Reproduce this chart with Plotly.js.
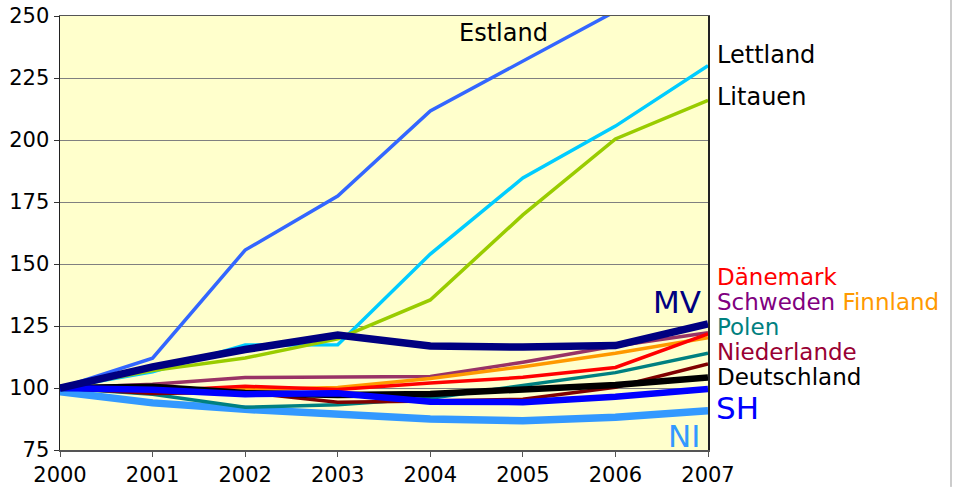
<!DOCTYPE html>
<html>
<head>
<meta charset="utf-8">
<script src="https://cdn.plot.ly/plotly-3.0.1.min.js"></script>
<style>html,body{margin:0;padding:0;background:#fff;}#chart{width:953px;height:487px;}</style>
</head>
<body>
<div id="chart"></div>
<script>
const years = [2000, 2001, 2002, 2003, 2004, 2005, 2006, 2007];

const estland     = [100, 112, 155.6, 177.4, 211.7, 232, 252.5, 272];
const lettland    = [100, 106.5, 117.3, 117.4, 154, 184.7, 205.6, 230];
const litauen     = [100, 107, 112.1, 119.8, 135.5, 169.8, 200.4, 216];
const mv          = [100, 108.5, 115.5, 121.4, 116.9, 116.5, 117.1, 125.8];
const schweden    = [100, 101.5, 104.2, 104.3, 104.6, 110.4, 116.9, 122.3];
const finnland    = [100, 99.5, 99.3, 100.2, 103.8, 108.6, 114, 120.3];
const daenemark   = [100, 98.8, 100.7, 99.4, 102, 104.3, 108.3, 121.8];
const polen       = [100, 97.5, 92.2, 93.2, 95.9, 100.9, 106.2, 114];
const niederlande = [100, 97.8, 98.3, 94.3, 94.8, 95.5, 100.3, 109.7];
const deutschland = [100, 100.5, 98, 97.2, 97.6, 99.2, 101.2, 104.2];
const sh          = [100, 99.3, 97.5, 97.9, 94.5, 94.3, 96.5, 99.6];
const ni          = [98.5, 94, 91.4, 89.5, 87.5, 86.8, 88.2, 90.8];

const series = [
  {name: 'NI', y: ni, color: '#3399FF', w: 7.5},
  {name: 'Estland', y: estland, color: '#3366FF', w: 3.5},
  {name: 'Lettland', y: lettland, color: '#00CCFF', w: 3.5},
  {name: 'Litauen', y: litauen, color: '#99CC00', w: 3.5},
  {name: 'Polen', y: polen, color: '#008080', w: 3.5},
  {name: 'Niederlande', y: niederlande, color: '#800000', w: 3.5},
  {name: 'Schweden', y: schweden, color: '#993366', w: 3.5},
  {name: 'Finnland', y: finnland, color: '#FF9900', w: 3.5},
  {name: 'Dänemark', y: daenemark, color: '#FF0000', w: 3.5},
  {name: 'Deutschland', y: deutschland, color: '#000000', w: 6.5},
  {name: 'SH', y: sh, color: '#0000FF', w: 6.5},
  {name: 'MV', y: mv, color: '#000080', w: 7.5}
];

const traces = series.map(s => ({
  x: years, y: s.y, type: 'scatter', mode: 'lines', name: s.name,
  line: {color: s.color, width: s.w}, hoverinfo: 'skip'
}));

const F = 'DejaVu Sans, sans-serif';
function ann(text, x, y, color, size, xanchor, xref) {
  return {text: text, x: x, y: y, xref: xref || 'x', yref: 'y', showarrow: false,
    xanchor: xanchor || 'left', yanchor: 'middle', borderpad: 0,
    font: {family: F, size: size, color: color}};
}
const R = 1.0125;

const layout = {
  width: 953, height: 487,
  margin: {l: 60, r: 245, t: 16, b: 37},
  paper_bgcolor: '#FFFFFF',
  plot_bgcolor: '#FFFFCC',
  showlegend: false,
  hovermode: false,
  font: {family: F, color: '#000'},
  xaxis: {
    range: [2000, 2007], tickmode: 'array', tickvals: years, ticktext: years.map(String),
    showgrid: false, zeroline: false, showline: true, linecolor: '#555', linewidth: 1.5,
    mirror: true, ticks: 'outside', ticklen: 5, tickcolor: '#555',
    tickfont: {family: F, size: 21, color: '#000'}
  },
  yaxis: {
    range: [75, 250], tickvals: [75, 100, 125, 150, 175, 200, 225, 250],
    showgrid: true, gridcolor: '#808080', gridwidth: 1, zeroline: false,
    showline: true, linecolor: '#222', linewidth: 1.5, mirror: true,
    ticks: 'outside', ticklen: 5, tickcolor: '#333',
    tickfont: {family: F, size: 21, color: '#000'}
  },
  annotations: [
    ann('Estland', 2004.79, 243.1, '#000', 24, 'center'),
    ann('Lettland', R, 234.3, '#000', 24, 'left', 'paper'),
    ann('Litauen', R, 217.3, '#000', 24, 'left', 'paper'),
    ann('Dänemark', R, 144.76, '#FF0000', 23, 'left', 'paper'),
    ann('Schweden <span style="color:#FF9900">Finnland</span>', R, 134.68, '#800080', 23, 'left', 'paper'),
    ann('Polen', R, 124.6, '#008080', 23, 'left', 'paper'),
    ann('Niederlande', R, 114.52, '#990033', 23, 'left', 'paper'),
    ann('Deutschland', R, 104.44, '#000', 23, 'left', 'paper'),
    ann('SH', 1.0105, 92.0, '#0000FF', 31, 'left', 'paper'),
    ann('MV', 2006.93, 134.7, '#000080', 31, 'right'),
    ann('NI', 2006.92, 80.6, '#3399FF', 31, 'right')
  ],
  shapes: [
    {type: 'line', xref: 'paper', yref: 'paper', x0: 1.375, x1: 1.375, y0: -0.085, y1: 1.037,
     line: {color: '#999', width: 1}}
  ]
};

Plotly.newPlot('chart', traces, layout, {displayModeBar: false, staticPlot: true});
</script>
</body>
</html>
